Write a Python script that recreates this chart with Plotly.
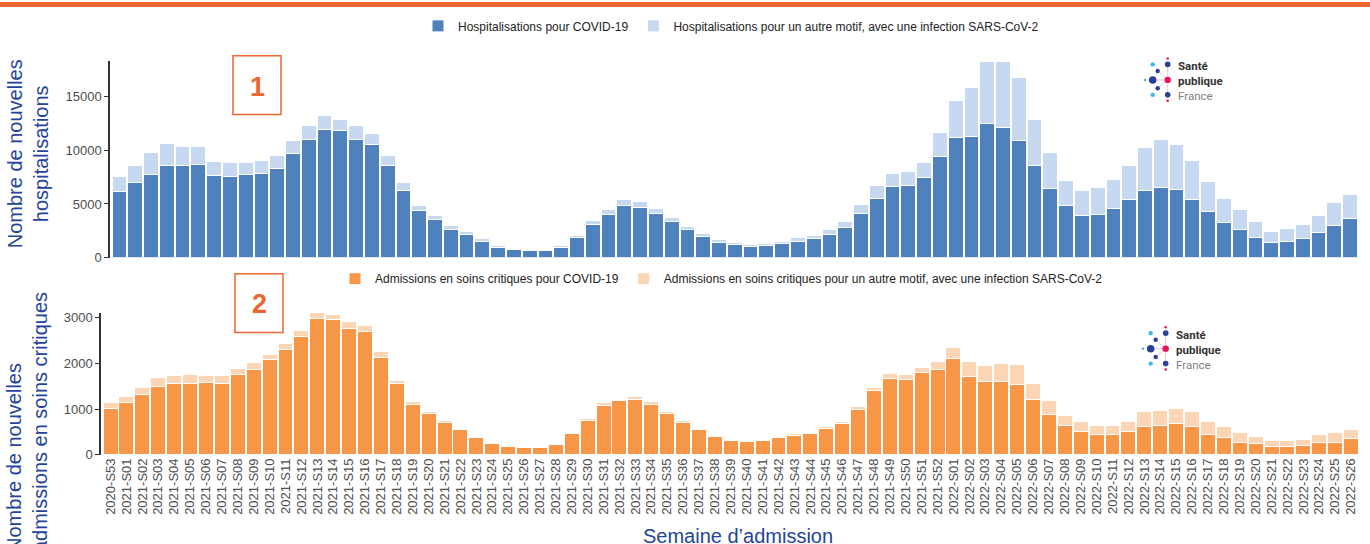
import plotly.graph_objects as go

W, H = 1370, 544
H_EFF = 536.5  # compensates the slight vertical squash seen in the rendered photo

weeks = [
    "2020-S53",
    "2021-S01", "2021-S02", "2021-S03", "2021-S04", "2021-S05", "2021-S06", "2021-S07", "2021-S08",
    "2021-S09", "2021-S10", "2021-S11", "2021-S12", "2021-S13", "2021-S14", "2021-S15", "2021-S16",
    "2021-S17", "2021-S18", "2021-S19", "2021-S20", "2021-S21", "2021-S22", "2021-S23", "2021-S24",
    "2021-S25", "2021-S26", "2021-S27", "2021-S28", "2021-S29", "2021-S30", "2021-S31", "2021-S32",
    "2021-S33", "2021-S34", "2021-S35", "2021-S36", "2021-S37", "2021-S38", "2021-S39", "2021-S40",
    "2021-S41", "2021-S42", "2021-S43", "2021-S44", "2021-S45", "2021-S46", "2021-S47", "2021-S48",
    "2021-S49", "2021-S50", "2021-S51", "2021-S52",
    "2022-S01", "2022-S02", "2022-S03", "2022-S04", "2022-S05", "2022-S06", "2022-S07", "2022-S08",
    "2022-S09", "2022-S10", "2022-S11", "2022-S12", "2022-S13", "2022-S14", "2022-S15", "2022-S16",
    "2022-S17", "2022-S18", "2022-S19", "2022-S20", "2022-S21", "2022-S22", "2022-S23", "2022-S24",
    "2022-S25", "2022-S26",
]

hosp_covid = [
    6130, 6990, 7700, 8560, 8560, 8650, 7640, 7510, 7730, 7820, 8310, 9720, 10950, 11930, 11780, 11010,
    10490, 8560, 6230, 4390, 3530, 2610, 2150, 1530, 980, 740, 640, 680, 980, 1870, 3070, 4050,
    4880, 4690, 4110, 3370, 2610, 1990, 1410, 1200, 1010, 1100, 1320, 1560, 1750, 2210, 2820, 4110,
    5520, 6660, 6750, 7480, 9420, 11160, 11290, 12480, 12110, 10890, 8590, 6440, 4850, 3960, 4050, 4570,
    5370, 6260, 6560, 6380, 5430, 4260, 3280, 2640, 1930, 1380, 1530, 1750, 2360, 3040, 3650,
]
hosp_autre = [
    1380, 1600, 2050, 2020, 1780, 1690, 1290, 1380, 1160, 1200, 1230, 1170, 1290, 1260, 1070, 1230,
    1040, 950, 790, 490, 370, 370, 300, 250, 190, 150, 100, 120, 160, 220, 400, 460,
    520, 520, 460, 370, 340, 310, 280, 210, 220, 250, 240, 280, 310, 430, 550, 830,
    1170, 1130, 1220, 1380, 2170, 3410, 4510, 5770, 6140, 5830, 4230, 3370, 2360, 2300, 2450, 2730,
    3220, 3950, 4390, 4140, 3590, 2790, 2240, 1840, 1440, 1100, 1200, 1350, 1600, 2080, 2270,
]

sc_covid = [
    1020, 1140, 1320, 1500, 1560, 1550, 1590, 1550, 1760, 1870, 2090, 2300, 2590, 2970, 2960, 2770,
    2700, 2120, 1550, 1100, 900, 710, 550, 390, 250, 180, 160, 160, 220, 460, 760, 1080,
    1180, 1210, 1100, 900, 710, 550, 400, 320, 290, 310, 370, 430, 460, 570, 680, 1000,
    1400, 1660, 1650, 1800, 1870, 2100, 1720, 1600, 1600, 1530, 1210, 890, 650, 520, 450, 450,
    520, 620, 640, 680, 620, 450, 390, 280, 250, 190, 190, 200, 280, 280, 360,
]
sc_autre = [
    130, 130, 160, 190, 180, 210, 150, 190, 130, 140, 110, 130, 130, 140, 110, 140,
    130, 130, 80, 60, 40, 50, 30, 20, 20, 20, 10, 10, 30, 30, 40, 60,
    40, 70, 60, 50, 50, 30, 30, 20, 20, 20, 20, 30, 30, 40, 40, 50,
    80, 110, 110, 120, 160, 240, 310, 350, 390, 440, 360, 290, 220, 210, 200, 200,
    210, 320, 320, 340, 320, 290, 220, 210, 150, 120, 130, 140, 160, 200, 190,
]

hosp_ticks = [0, 5000, 10000, 15000]
sc_ticks = [0, 1000, 2000, 3000]

series_names = [
    "Hospitalisations pour COVID-19",
    "Hospitalisations pour un autre motif, avec une infection SARS-CoV-2",
    "Admissions en soins critiques pour COVID-19",
    "Admissions en soins critiques pour un autre motif, avec une infection SARS-CoV-2",
]

BLUE = "#4F81BD"
LBLUE = "#C6D9F0"
ORANGE = "#F79646"
LORANGE = "#FCD5B5"
ACCENT = "#EC6630"
TITLE_BLUE = "#23449A"
FONT = "Arial, Liberation Sans, sans-serif"


def px(x):
    return x / W


def py(y):
    return 1 - y / H_EFF


fig = go.Figure()
line_w = dict(color="white", width=1)
fig.add_trace(go.Bar(x=weeks, y=hosp_covid, name=series_names[0], marker=dict(color=BLUE, line=line_w),
                     xaxis="x", yaxis="y", legend="legend"))
fig.add_trace(go.Bar(x=weeks, y=hosp_autre, name=series_names[1], marker=dict(color=LBLUE, line=line_w),
                     xaxis="x", yaxis="y", legend="legend"))
fig.add_trace(go.Bar(x=weeks, y=sc_covid, name=series_names[2], marker=dict(color=ORANGE, line=line_w),
                     xaxis="x2", yaxis="y2", legend="legend2"))
fig.add_trace(go.Bar(x=weeks, y=sc_autre, name=series_names[3], marker=dict(color=LORANGE, line=line_w),
                     xaxis="x2", yaxis="y2", legend="legend2"))

yax_common = dict(
    showgrid=False, zeroline=False, showline=True, linecolor="#333333", linewidth=1.5,
    ticks="outside", ticklen=4, tickwidth=1, tickcolor="#333333", tickformat="d",
    tickfont=dict(family=FONT, size=13, color="#4d4d4d"),
)

shapes = [
    dict(type="rect", xref="paper", yref="paper", x0=0, x1=1, y0=py(5), y1=1,
         fillcolor=ACCENT, line=dict(width=0), layer="above"),
    dict(type="rect", xref="paper", yref="paper", x0=px(233), x1=px(281), y0=py(113), y1=py(54),
         line=dict(color=ACCENT, width=1.5)),
    dict(type="rect", xref="paper", yref="paper", x0=px(235), x1=px(283), y0=py(332), y1=py(273),
         line=dict(color=ACCENT, width=1.5)),
]


def note(text, x, y, size, color, angle=0, align="center", xanchor="center", fam=FONT):
    return dict(text=text, x=px(x), y=py(y), xref="paper", yref="paper", showarrow=False,
                xanchor=xanchor, yanchor="middle", textangle=angle, align=align,
                font=dict(family=fam, size=size, color=color))


annotations = [
    note("<b>1</b>", 257, 85, 27, ACCENT),
    note("<b>2</b>", 259, 303, 27, ACCENT),
    note("Nombre de nouvelles<br>hospitalisations", 28, 153, 20, TITLE_BLUE, angle=-90),
    note("Nombre de nouvelles<br>admissions en soins critiques", 27, 422, 20, TITLE_BLUE,
         angle=-90, align="left"),
    note("Semaine d’admission", 738, 536, 20, TITLE_BLUE),
]


def add_logo(cx, cy):
    dots = [
        (0, -21.6, 1.3, "#E5145D"), (0, -15.6, 2.8, "#2B3F9A"), (-15, -15.6, 2.2, "#3DB8E8"),
        (-10, -9, 2.2, "#2B3F9A"), (-22.7, 0, 1.3, "#3DB8E8"), (-15, 0, 3.8, "#2B3F9A"),
        (0, 0, 3.2, "#E5145D"), (-10, 8.4, 2.2, "#2B3F9A"), (-15, 15, 2.2, "#3DB8E8"),
        (0, 15, 2.8, "#2B3F9A"), (0, 21, 1.3, "#E5145D"),
    ]
    for (dx, dy) in [(0, -15.6), (-15, 0), (0, 15), (-10, -9), (-10, 8.4)]:
        shapes.append(dict(type="line", xref="paper", yref="paper",
                           x0=px(cx), y0=py(cy), x1=px(cx + dx), y1=py(cy + dy),
                           line=dict(color="#E8B7C8", width=0.8)))
    for dx, dy, r, c in dots:
        shapes.append(dict(type="circle", xref="paper", yref="paper",
                           x0=px(cx + dx - r), x1=px(cx + dx + r), y0=py(cy + dy + r), y1=py(cy + dy - r),
                           fillcolor=c, line=dict(width=0)))
    annotations.append(note(
        "<b>Santé</b><br><b>publique</b><br><span style='color:#808080'>France</span>",
        cx + 8, cy + 1, 11.5, "#333333", align="left", xanchor="left", fam="Roboto, " + FONT))


add_logo(1167.7, 78.3)
add_logo(1165.7, 348.3)

fig.update_layout(
    width=W, height=H,
    margin=dict(l=0, r=0, t=0, b=0),
    paper_bgcolor="white", plot_bgcolor="white",
    barmode="stack", bargap=0.06,
    font=dict(family=FONT),
    xaxis=dict(domain=[px(110), px(1358)], anchor="y", type="category", range=[-0.6, 78.5],
               showticklabels=False, ticks="", showline=False, showgrid=False, zeroline=False),
    yaxis=dict(domain=[py(257), py(59)], anchor="x", range=[0, 18300], tickvals=hosp_ticks, **yax_common),
    xaxis2=dict(domain=[px(101), px(1359)], anchor="y2", type="category", range=[-0.6, 78.5],
                tickmode="linear", tick0=0, dtick=1,
                showline=False, showgrid=False, zeroline=False, ticks="", tickangle=-90,
                tickfont=dict(family=FONT, size=13, color="#4d4d4d")),
    yaxis2=dict(domain=[py(455), py(312)], anchor="x2", range=[0, 3110], tickvals=sc_ticks, **yax_common),
    legend=dict(orientation="h", x=px(418), y=py(24), xanchor="left", yanchor="middle",
                font=dict(family=FONT, size=12, color="#222222"), bgcolor="rgba(0,0,0,0)",
                traceorder="normal"),
    legend2=dict(orientation="h", x=px(335), y=py(278), xanchor="left", yanchor="middle",
                 font=dict(family=FONT, size=12, color="#222222"), bgcolor="rgba(0,0,0,0)",
                 traceorder="normal"),
    shapes=shapes,
    annotations=annotations,
)

fig.write_html(
    "out.html",
    config={"displayModeBar": False},
    post_script=(
        "document.documentElement.style.margin='0';document.documentElement.style.overflow='hidden';"
        "document.body.style.margin='0';document.body.style.overflow='hidden';"
        "var gd=document.getElementById('{plot_id}');gd.style.overflow='hidden';"
    ),
)
